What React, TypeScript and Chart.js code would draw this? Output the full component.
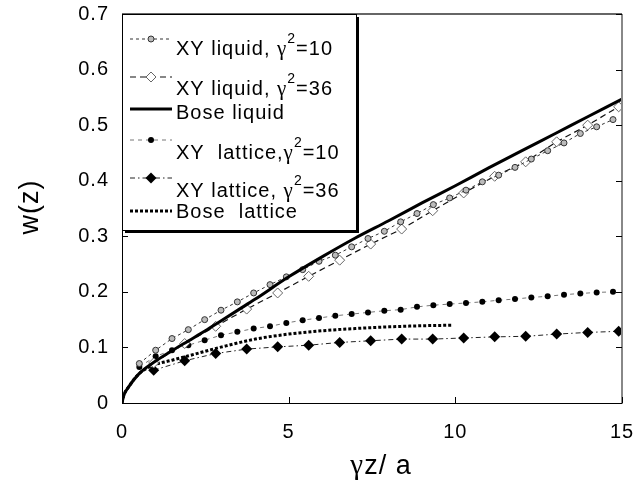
import { useEffect, useRef } from 'react';
import { Chart, registerables } from 'chart.js';

Chart.register(...registerables);

// ---- data ----
const liquid10X = [0.52, 1.01, 1.5, 1.99, 2.48, 2.97, 3.46, 3.95, 4.44, 4.93, 5.42, 5.91, 6.4, 6.89, 7.38, 7.87, 8.36, 8.85, 9.34, 9.83, 10.32, 10.81, 11.3, 11.79, 12.28, 12.77, 13.26, 13.75, 14.24, 14.73];
const liquid10Y = [0.071, 0.095, 0.116, 0.132, 0.15, 0.167, 0.182, 0.198, 0.213, 0.227, 0.24, 0.255, 0.266, 0.281, 0.296, 0.309, 0.326, 0.341, 0.357, 0.369, 0.383, 0.398, 0.41, 0.424, 0.439, 0.454, 0.468, 0.485, 0.497, 0.51];

const liquid36X = [0.95, 1.88, 2.81, 3.74, 4.67, 5.6, 6.53, 7.46, 8.39, 9.32, 10.25, 11.18, 12.11, 13.04, 13.97, 14.9];
const liquid36Y = [0.072, 0.107, 0.138, 0.169, 0.198, 0.228, 0.257, 0.286, 0.313, 0.346, 0.378, 0.408, 0.434, 0.47, 0.5, 0.533];

const boseLiquidX = [0, 0.05, 0.2, 0.5, 1, 1.5, 2, 2.5, 3, 3.5, 4, 5, 6, 7, 8, 9, 10, 11, 12, 13, 14, 15];
const boseLiquidY = [0, 0.013, 0.029, 0.052, 0.075, 0.094, 0.112, 0.13, 0.149, 0.168, 0.187, 0.227, 0.263, 0.297, 0.328, 0.36, 0.391, 0.423, 0.454, 0.485, 0.516, 0.547];

const lattice10X = [0.52, 1.01, 1.5, 1.99, 2.48, 2.97, 3.46, 3.95, 4.44, 4.93, 5.42, 5.91, 6.4, 6.89, 7.38, 7.87, 8.36, 8.85, 9.34, 9.83, 10.32, 10.81, 11.3, 11.79, 12.28, 12.77, 13.26, 13.75, 14.24, 14.73];
const lattice10Y = [0.065, 0.084, 0.095, 0.104, 0.113, 0.122, 0.128, 0.134, 0.138, 0.144, 0.149, 0.153, 0.157, 0.16, 0.163, 0.166, 0.168, 0.173, 0.176, 0.178, 0.18, 0.182, 0.185, 0.187, 0.19, 0.192, 0.195, 0.197, 0.199, 0.2];

const lattice36X = [0.95, 1.88, 2.81, 3.74, 4.67, 5.6, 6.53, 7.46, 8.39, 9.32, 10.25, 11.18, 12.11, 13.04, 13.97, 14.9];
const lattice36Y = [0.059, 0.076, 0.089, 0.097, 0.101, 0.104, 0.109, 0.112, 0.115, 0.115, 0.117, 0.119, 0.12, 0.124, 0.127, 0.129];

const boseLatticeX = [0, 0.05, 0.2, 0.5, 0.9, 1.5, 2, 3, 4, 5, 6, 7, 8, 9, 9.9];
const boseLatticeY = [0, 0.013, 0.029, 0.052, 0.067, 0.077, 0.085, 0.101, 0.115, 0.124, 0.13, 0.134, 0.137, 0.139, 0.14];

// legend labels: [text, greek letter, superscript, after]
const legendLabels: [string, string, string, string][] = [
  ['XY liquid, ', '\u03b3', '2', '=10'],
  ['XY liquid, ', '\u03b3', '2', '=36'],
  ['Bose liquid', '', '', ''],
  ['XY  lattice,', '\u03b3', '2', '=10'],
  ['XY lattice, ', '\u03b3', '2', '=36'],
  ['Bose  lattice', '', '', ''],
];

const xTitleGreek = '\u03b3';
const xTitleRest = 'z/ a';
const yTitle = 'w(z)';

const FONT = "'Liberation Sans', Arial, sans-serif";
const GREEK_FONT = "'Liberation Serif', 'Times New Roman', serif";

const zip = (xs: number[], ys: number[]) => xs.map((x, i) => ({ x, y: ys[i] }));

type SeriesStyle = {
  color: string;
  width: number;
  dash: number[];
  marker: 'none' | 'ringdot' | 'openDiamond' | 'dot' | 'diamond';
};

const styles: SeriesStyle[] = [
  { color: '#333', width: 1, dash: [3, 3], marker: 'ringdot' },
  { color: '#111', width: 1.2, dash: [6, 4], marker: 'openDiamond' },
  { color: '#000', width: 3, dash: [], marker: 'none' },
  { color: '#777', width: 1, dash: [4, 4], marker: 'dot' },
  { color: '#222', width: 1, dash: [5, 3, 1.5, 3], marker: 'diamond' },
  { color: '#000', width: 3, dash: [3, 2], marker: 'none' },
];

function drawMarker(ctx: CanvasRenderingContext2D, kind: SeriesStyle['marker'], x: number, y: number) {
  ctx.save();
  ctx.setLineDash([]);
  if (kind === 'ringdot') {
    ctx.beginPath();
    ctx.arc(x, y, 3, 0, Math.PI * 2);
    ctx.fillStyle = '#bbb';
    ctx.fill();
    ctx.lineWidth = 1;
    ctx.strokeStyle = '#333';
    ctx.stroke();
  } else if (kind === 'openDiamond') {
    ctx.beginPath();
    ctx.moveTo(x, y - 5);
    ctx.lineTo(x + 5, y);
    ctx.lineTo(x, y + 5);
    ctx.lineTo(x - 5, y);
    ctx.closePath();
    ctx.fillStyle = '#fff';
    ctx.fill();
    ctx.lineWidth = 1;
    ctx.strokeStyle = '#666';
    ctx.stroke();
  } else if (kind === 'dot') {
    ctx.beginPath();
    ctx.arc(x, y, 3, 0, Math.PI * 2);
    ctx.fillStyle = '#000';
    ctx.fill();
  } else if (kind === 'diamond') {
    ctx.beginPath();
    ctx.moveTo(x, y - 5.5);
    ctx.lineTo(x + 5.5, y);
    ctx.lineTo(x, y + 5.5);
    ctx.lineTo(x - 5.5, y);
    ctx.closePath();
    ctx.fillStyle = '#000';
    ctx.fill();
  }
  ctx.restore();
}

const decor = {
  id: 'decor',
  beforeDraw(chart: any) {
    (chart.ctx as any).letterSpacing = '1px';
  },
  afterDraw(chart: any) {
    const ctx: CanvasRenderingContext2D = chart.ctx;
    const { left: L, right: R, top: T, bottom: B } = chart.chartArea;
    const xs = chart.scales.x;
    const ys = chart.scales.y;
    ctx.save();
    ctx.setLineDash([]);

    // frame
    ctx.strokeStyle = '#000';
    ctx.lineWidth = 1;
    ctx.beginPath();
    ctx.moveTo(L + 0.5, T);
    ctx.lineTo(L + 0.5, B + 0.5);
    ctx.lineTo(R, B + 0.5);
    ctx.stroke();
    ctx.strokeStyle = '#888';
    ctx.lineWidth = 2;
    ctx.beginPath();
    ctx.moveTo(R, T);
    ctx.lineTo(R, B + 1);
    ctx.stroke();
    ctx.strokeStyle = '#333';
    ctx.lineWidth = 1.5;
    ctx.beginPath();
    ctx.moveTo(L, T);
    ctx.lineTo(R, T);
    ctx.stroke();

    // inward ticks
    ctx.strokeStyle = '#000';
    ctx.lineWidth = 1;
    ctx.beginPath();
    ys.ticks.forEach((t: any) => {
      const py = Math.round(ys.getPixelForValue(t.value)) + 0.5;
      ctx.moveTo(L, py);
      ctx.lineTo(L + 6, py);
      ctx.moveTo(R, py);
      ctx.lineTo(R - 6, py);
    });
    xs.ticks.forEach((t: any) => {
      const px = Math.round(xs.getPixelForValue(t.value)) + 0.5;
      ctx.moveTo(px, B);
      ctx.lineTo(px, B - 6);
    });
    ctx.stroke();

    // legend box
    const bx = L, by = T, bw = 234, bh = 216;
    ctx.fillStyle = '#000';
    ctx.fillRect(bx + 3, by + bh, bw, 3);
    ctx.fillRect(bx + bw, by + 3, 3, bh);
    ctx.fillStyle = '#fff';
    ctx.fillRect(bx, by, bw, bh);
    ctx.strokeStyle = '#000';
    ctx.lineWidth = 1;
    ctx.strokeRect(bx + 0.5, by + 0.5, bw, bh);

    const sampleY = [39, 77, 109, 140, 178, 211];
    const baseY = [55, 95, 119, 159, 197, 218];
    const sx1 = 130, sx2 = 172, tx = 176;
    legendLabels.forEach((lab, i) => {
      const st = styles[i];
      ctx.save();
      ctx.strokeStyle = st.color;
      ctx.lineWidth = st.width;
      ctx.setLineDash(st.dash);
      ctx.beginPath();
      ctx.moveTo(sx1, sampleY[i]);
      ctx.lineTo(sx2, sampleY[i]);
      ctx.stroke();
      ctx.restore();
      drawMarker(ctx, st.marker, (sx1 + sx2) / 2, sampleY[i]);

      ctx.fillStyle = '#000';
      ctx.textAlign = 'left';
      ctx.textBaseline = 'alphabetic';
      ctx.font = `20px ${FONT}`;
      let x = tx;
      ctx.fillText(lab[0], x, baseY[i]);
      x += ctx.measureText(lab[0]).width;
      if (lab[1]) {
        ctx.font = `21px ${GREEK_FONT}`;
        ctx.fillText(lab[1], x, baseY[i]);
        x += ctx.measureText(lab[1]).width;
        ctx.font = `14px ${FONT}`;
        ctx.fillText(lab[2], x, baseY[i] - 12);
        x += ctx.measureText(lab[2]).width;
        ctx.font = `20px ${FONT}`;
        ctx.fillText(lab[3], x, baseY[i]);
      }
    });

    // axis titles
    ctx.fillStyle = '#000';
    ctx.textBaseline = 'alphabetic';
    ctx.textAlign = 'left';
    ctx.font = `29px ${GREEK_FONT}`;
    const gw = ctx.measureText(xTitleGreek).width;
    ctx.font = `27px ${FONT}`;
    const rw = ctx.measureText(xTitleRest).width;
    const x0 = 381 - (gw + rw) / 2;
    ctx.font = `29px ${GREEK_FONT}`;
    ctx.fillText(xTitleGreek, x0, 474);
    ctx.font = `27px ${FONT}`;
    ctx.fillText(xTitleRest, x0 + gw, 474);

    ctx.textAlign = 'center';
    ctx.textBaseline = 'middle';
    ctx.save();
    ctx.translate(31, 207);
    ctx.rotate(-Math.PI / 2);
    ctx.fillText(yTitle, 0, 0);
    ctx.restore();

    ctx.restore();
  },
};

export default function App() {
  const ref = useRef<HTMLCanvasElement>(null);
  useEffect(() => {
    const canvas = ref.current;
    if (!canvas) return;
    const series = [
      zip(liquid10X, liquid10Y),
      zip(liquid36X, liquid36Y),
      zip(boseLiquidX, boseLiquidY),
      zip(lattice10X, lattice10Y),
      zip(lattice36X, lattice36Y),
      zip(boseLatticeX, boseLatticeY),
    ];
    const pointCfg = (m: SeriesStyle['marker']) => {
      switch (m) {
        case 'ringdot':
          return { pointStyle: 'circle', pointRadius: 3, pointBackgroundColor: '#bbb', pointBorderColor: '#333', pointBorderWidth: 1 };
        case 'openDiamond':
          return { pointStyle: 'rectRot', pointRadius: 5, pointBackgroundColor: '#fff', pointBorderColor: '#666', pointBorderWidth: 1 };
        case 'dot':
          return { pointStyle: 'circle', pointRadius: 3, pointBackgroundColor: '#000', pointBorderColor: '#000', pointBorderWidth: 0 };
        case 'diamond':
          return { pointStyle: 'rectRot', pointRadius: 5.5, pointBackgroundColor: '#000', pointBorderColor: '#000', pointBorderWidth: 0 };
        default:
          return { pointRadius: 0 };
      }
    };
    const datasets = series.map((data, i) => {
      const st = styles[i];
      return {
        label: legendLabels[i].join(''),
        data,
        borderColor: st.color,
        borderWidth: st.width,
        borderDash: st.dash,
        fill: false,
        tension: 0,
        cubicInterpolationMode: st.marker === 'none' ? 'monotone' : 'default',
        order: i === 2 ? -1 : i,
        ...pointCfg(st.marker),
      };
    });
    const tickFont = { family: FONT, size: 20 };
    const chart = new Chart(canvas, {
      type: 'line',
      data: { datasets: datasets as any },
      options: {
        responsive: false,
        animation: false,
        events: [],
        layout: { padding: { left: 0, top: 14, right: 12, bottom: 38 } },
        plugins: { legend: { display: false }, tooltip: { enabled: false } },
        scales: {
          x: {
            type: 'linear',
            min: 0,
            max: 15,
            ticks: { stepSize: 5, padding: 17, color: '#000', font: tickFont, maxRotation: 0, autoSkip: false },
            grid: { display: false, drawTicks: false },
            border: { display: false },
            afterFit: (s: any) => {
              s.height = 44;
              s.paddingLeft = 0;
              s.paddingRight = 0;
            },
          },
          y: {
            type: 'linear',
            min: 0,
            max: 0.7,
            ticks: { stepSize: 0.1, padding: 13, color: '#000', font: tickFont },
            grid: { display: false, drawTicks: false },
            border: { display: false },
            afterFit: (s: any) => {
              s.width = 122;
              s.paddingTop = 0;
              s.paddingBottom = 0;
            },
          },
        },
      } as any,
      plugins: [decor],
    });
    return () => chart.destroy();
  }, []);
  return (
    <div style={{ position: 'fixed', left: 0, top: 0, width: 634, height: 485, background: '#fff' }}>
      <canvas ref={ref} width={634} height={485} />
    </div>
  );
}
